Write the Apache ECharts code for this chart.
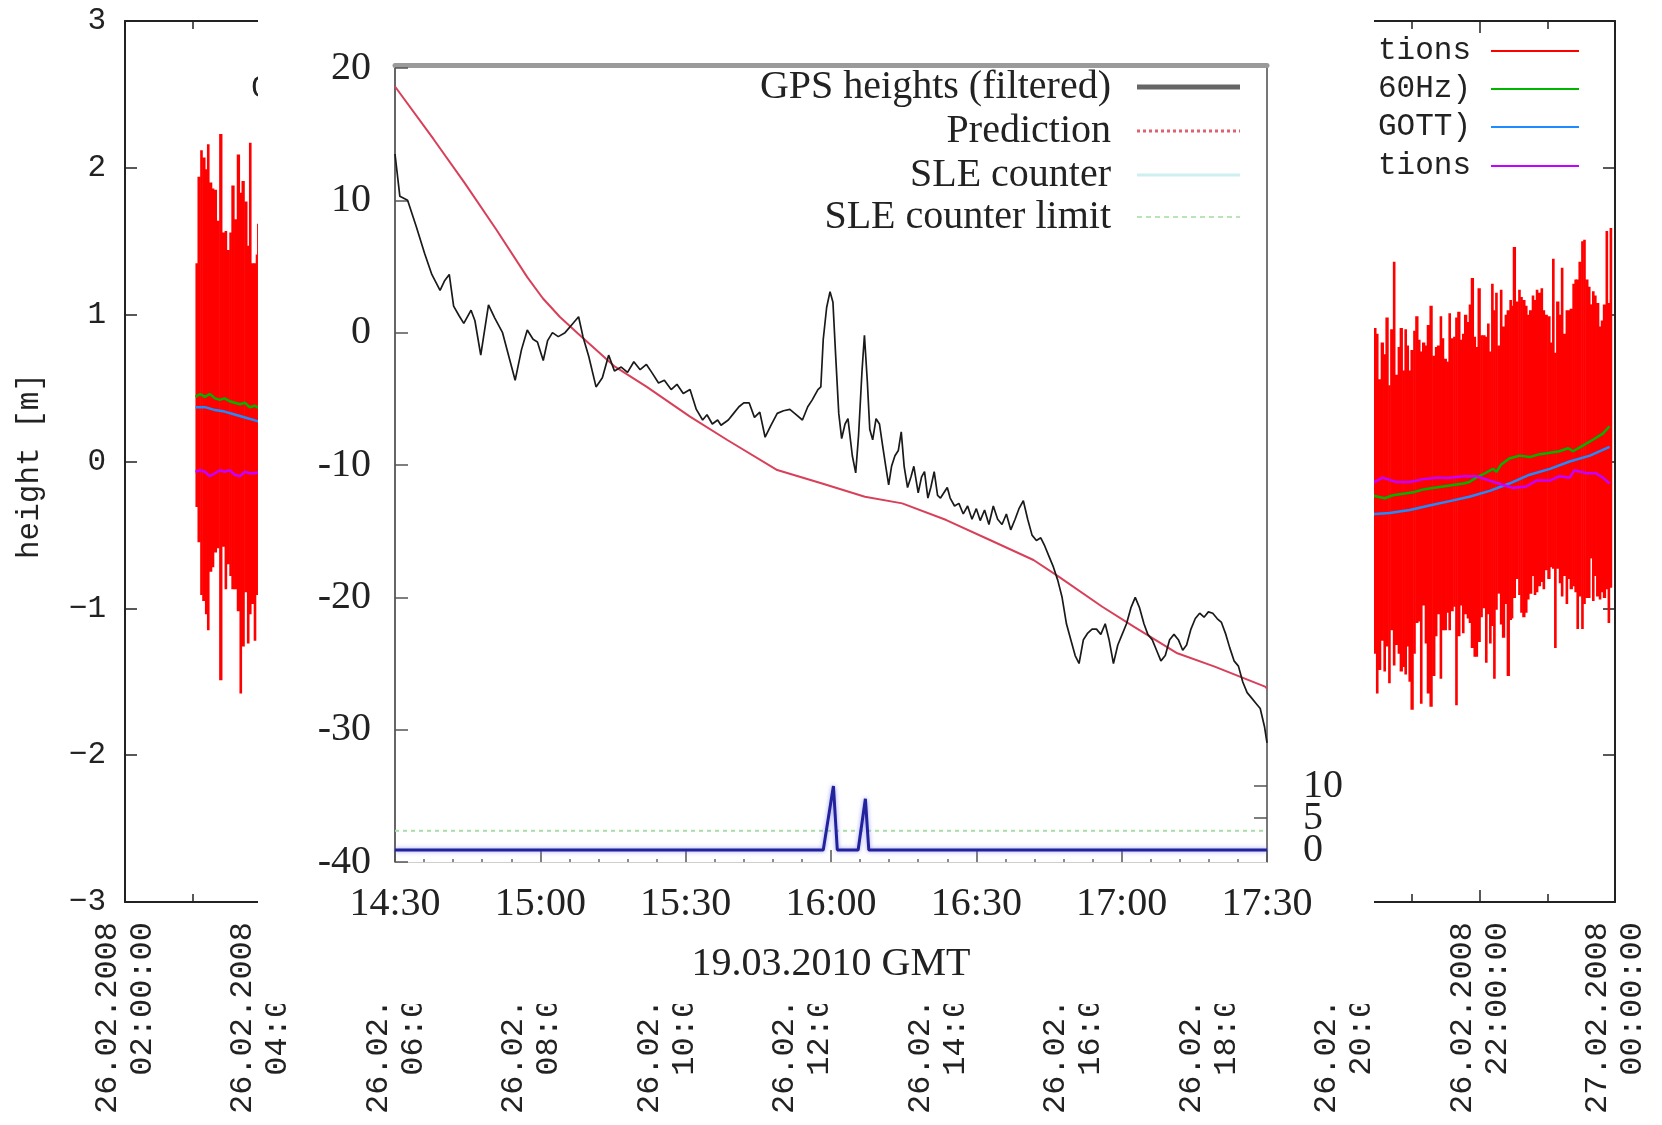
<!DOCTYPE html>
<html><head><meta charset="utf-8">
<script src="https://cdn.jsdelivr.net/npm/echarts@6/dist/echarts.min.js"></script>
<style>
html,body{margin:0;padding:0;background:#fff;}
#bg{position:absolute;left:0;top:0;width:1662px;height:1125px;}
#inset{position:absolute;left:258px;top:0;width:1116px;height:1004px;background:#fff;z-index:2;}
</style></head><body>
<div id="bg"></div><div id="inset"></div>
<script>
// ================= Background chart (26.02.2008, hours of day) =================
const bgYTicks = [-3, -2, -1, 0, 1, 2, 3];
const bgLegendTexts = ['tions', '60Hz)', 'GOTT)', 'tions'];
const bgLegendColors = ['#ff0000', '#00b400', '#1e8cff', '#c400ff'];

// red band: sample start times (last entry = end of last sample), upper and lower values
const redLeftT = [3.04,3.07,3.11,3.14,3.18,3.21,3.24,3.28,3.31,3.35,3.39,3.43,3.47,3.50,3.54,3.57,3.61,3.65,3.69,3.72,3.76,3.80,3.83,3.86,3.90,3.93,3.95,3.99];
const redLeftHi = [1.35,1.94,2.12,2.07,1.99,2.16,1.90,1.86,1.85,1.64,2.23,1.56,1.57,1.44,1.56,1.88,1.65,2.09,1.83,1.91,1.77,1.47,2.17,1.35,1.35,1.41,1.62];
const redLeftLo = [-0.31,-0.55,-0.91,-0.95,-1.04,-1.15,-0.75,-0.72,-0.62,-0.59,-1.49,-0.58,-0.87,-0.70,-0.78,-0.87,-0.87,-1.02,-1.58,-1.26,-0.89,-1.24,-1.04,-0.97,-1.22,-0.91,-0.91];

const redRightT = [20.42,20.47,20.50,20.54,20.58,20.61,20.65,20.68,20.72,20.75,
  20.79,20.82,20.86,20.89,20.92,20.95,20.98,21.02,21.05,21.09,
  21.12,21.15,21.19,21.22,21.26,21.30,21.34,21.37,21.41,21.44,
  21.47,21.51,21.54,21.57,21.61,21.64,21.67,21.71,21.74,21.77,
  21.81,21.84,21.87,21.91,21.94,21.97,22.01,22.04,22.08,22.11,
  22.14,22.17,22.20,22.23,22.26,22.30,22.33,22.37,22.40,22.44,
  22.47,22.49,22.53,22.57,22.60,22.63,22.67,22.70,22.73,22.77,
  22.80,22.83,22.86,22.90,22.93,22.96,23.00,23.04,23.07,23.10,
  23.13,23.17,23.20,23.23,23.27,23.30,23.33,23.37,23.40,23.43,
  23.46,23.50,23.53,23.56,23.60,23.63,23.66,23.69,23.72,23.76,
  23.79,23.82,23.86,23.89,23.92,23.95];
const redRightHi = [0.91,0.87,0.56,0.81,0.73,0.98,0.52,0.90,1.36,0.59,
  0.78,0.91,0.62,0.90,0.79,0.62,0.76,0.89,0.99,0.83,
  0.75,0.81,0.79,0.93,1.06,0.72,0.78,0.79,0.99,0.84,
  0.70,0.68,1.01,0.84,0.85,0.98,1.02,0.83,0.87,1.00,
  0.95,1.07,1.25,0.85,0.78,1.18,0.86,0.86,0.85,0.94,
  0.75,1.21,1.03,1.15,0.79,1.17,0.92,1.00,1.03,1.10,
  1.06,1.46,1.09,1.17,1.12,1.10,1.06,1.00,1.03,1.13,
  1.10,1.17,1.15,1.18,1.03,1.00,0.99,0.81,1.38,0.74,
  1.09,1.00,1.32,0.87,1.03,1.03,1.04,1.21,1.24,1.24,
  1.36,1.50,1.51,1.24,1.19,1.07,1.16,1.13,1.08,0.92,
  0.96,1.07,1.57,1.08,1.59];
const redRightLo = [-1.31,-1.58,-1.42,-1.22,-1.43,-1.26,-1.51,-1.15,-1.39,-1.25,
  -1.31,-1.43,-1.40,-1.45,-1.26,-1.50,-1.69,-1.31,-1.10,-1.09,
  -1.65,-0.98,-1.24,-1.58,-1.67,-1.46,-1.19,-1.04,-1.48,-1.15,
  -1.15,-1.03,-1.15,-1.02,-0.99,-1.66,-1.19,-0.98,-1.17,-1.04,
  -1.07,-1.10,-1.27,-1.33,-1.33,-1.23,-1.06,-1.00,-1.37,-1.04,
  -1.24,-1.12,-1.48,-1.01,-0.90,-1.11,-1.20,-0.97,-1.46,-1.08,
  -1.07,-0.93,-0.80,-0.91,-1.03,-1.06,-1.03,-0.94,-0.90,-0.78,
  -0.91,-0.89,-0.85,-0.82,-0.87,-0.74,-0.80,-0.72,-0.73,-1.27,
  -0.73,-0.83,-0.92,-0.78,-0.97,-0.80,-0.87,-0.85,-0.89,-1.14,
  -0.92,-1.14,-0.97,-0.93,-0.93,-0.66,-0.95,-0.78,-0.92,-0.94,
  -0.89,-0.93,-0.87,-1.10,-0.86];

const greenLeftT = [3.04,3.11,3.18,3.25,3.33,3.40,3.47,3.55,3.62,3.70,3.77,3.84,3.92,3.99];
const greenLeftV = [0.44,0.46,0.44,0.46,0.43,0.42,0.43,0.41,0.40,0.39,0.40,0.37,0.38,0.36];
const blueLeftT = [3.04,3.18,3.33,3.47,3.62,3.77,3.92,3.99];
const blueLeftV = [0.37,0.37,0.35,0.34,0.32,0.30,0.28,0.27];
const magentaLeftT = [3.04,3.11,3.18,3.25,3.33,3.40,3.47,3.55,3.62,3.70,3.77,3.84,3.92,3.99];
const magentaLeftV = [-0.07,-0.06,-0.07,-0.10,-0.08,-0.06,-0.07,-0.06,-0.09,-0.10,-0.07,-0.08,-0.08,-0.07];

const greenRightT = [20.40,20.50,20.60,20.72,20.87,21.02,21.17,21.31,21.46,21.61,21.76,21.85,21.95,22.08,22.20,22.25,22.32,22.44,22.59,22.74,22.89,23.04,23.18,23.31,23.38,23.53,23.68,23.82,23.92];
const greenRightV = [-0.23,-0.24,-0.25,-0.23,-0.22,-0.21,-0.19,-0.18,-0.17,-0.16,-0.15,-0.14,-0.11,-0.08,-0.05,-0.07,-0.02,0.02,0.04,0.03,0.05,0.06,0.07,0.09,0.07,0.11,0.15,0.19,0.24];
const blueRightT = [20.40,20.67,20.97,21.26,21.56,21.85,22.15,22.44,22.74,23.04,23.33,23.63,23.92];
const blueRightV = [-0.36,-0.35,-0.33,-0.30,-0.27,-0.24,-0.20,-0.15,-0.09,-0.05,0.00,0.04,0.10];
const magentaRightT = [20.40,20.57,20.77,20.97,21.17,21.36,21.56,21.76,21.95,22.15,22.35,22.49,22.69,22.84,23.04,23.18,23.33,23.40,23.58,23.72,23.82,23.92];
const magentaRightV = [-0.15,-0.11,-0.14,-0.14,-0.12,-0.11,-0.11,-0.10,-0.10,-0.13,-0.16,-0.18,-0.17,-0.13,-0.13,-0.10,-0.11,-0.06,-0.08,-0.08,-0.11,-0.15];

// ================= Inset chart (19.03.2010, minutes after 14:30) =================
const insetLegend = ['GPS heights (filtered)', 'Prediction', 'SLE counter', 'SLE counter limit'];
const gpsMin = [0,1.0,2.6,4.4,6.1,7.6,9.3,10.2,11.2,12.1,13.2,14.2,15.7,16.5,17.7,19.3,20.6,22.2,23.5,24.8,
  26.1,27.3,28.5,29.4,30.6,31.5,32.5,33.7,35.1,36.5,37.9,38.8,40.0,41.5,42.8,44.1,45.3,46.7,48.0,49.3,
  50.6,51.9,53.0,54.4,55.6,57.0,58.2,59.5,60.9,62.2,63.5,64.4,65.5,66.6,67.3,68.8,69.9,71.0,72.0,73.1,
  74.2,75.3,76.4,77.6,78.9,80.2,81.5,82.8,84.1,85.2,86.1,87.3,87.9,88.4,89.1,89.8,90.4,90.9,91.6,92.2,
  92.9,93.5,94.4,95.1,95.7,96.4,96.9,97.5,98.0,98.6,99.3,100.0,100.6,101.3,101.9,102.5,103.2,103.9,104.5,105.1,
  105.8,106.5,107.1,108.0,108.7,109.3,110.0,110.6,111.3,112.0,112.6,113.3,114.0,114.6,115.5,116.4,117.3,118.2,119.1,120.0,
  120.8,121.7,122.6,123.5,124.4,125.3,126.2,127.1,128.0,128.8,129.7,130.6,131.5,132.4,133.3,134.1,135.0,135.9,136.8,137.7,
  138.6,139.5,140.4,141.2,142.1,143.0,143.9,144.8,145.7,146.6,147.4,148.3,149.2,150.1,151.0,151.9,152.8,153.7,154.6,155.4,
  156.3,157.2,158.1,159.0,159.9,160.8,161.7,162.6,163.4,164.3,165.2,166.1,167.0,167.9,168.8,169.7,170.6,171.5,172.3,173.2,
  174.1,175.0,175.9,176.8,177.7,178.6,179.5,180.0];
const gpsV = [13.5,10.3,10.0,8.0,6.0,4.4,3.2,3.9,4.4,2.0,1.3,0.7,1.7,0.9,-1.7,2.1,1.1,0.0,-1.8,-3.6,
  -1.3,0.2,-0.5,-0.7,-2.1,-0.6,0.0,-0.3,0.0,0.6,1.2,-0.3,-1.8,-4.1,-3.4,-1.7,-2.9,-2.6,-3.0,-2.2,
  -2.8,-2.4,-3.0,-3.8,-3.6,-4.3,-3.9,-4.6,-4.3,-5.8,-6.6,-6.2,-6.9,-6.6,-7.0,-6.6,-6.1,-5.6,-5.3,-5.3,
  -6.4,-6.0,-7.9,-7.0,-6.1,-5.9,-5.8,-6.2,-6.6,-5.6,-5.1,-4.3,-4.1,-0.5,1.9,3.1,2.3,-1.3,-6.1,-8.0,
  -6.9,-6.5,-9.3,-10.6,-7.7,-2.9,-0.2,-3.7,-7.3,-8.1,-6.5,-6.9,-8.4,-10.1,-11.5,-10.1,-9.3,-8.9,-7.5,-10.1,
  -11.7,-10.9,-10.1,-12.1,-10.9,-10.5,-12.5,-11.7,-10.5,-12.3,-12.5,-12.1,-11.7,-12.5,-13.1,-12.9,-13.7,-13.1,-14.1,-13.3,
  -14.2,-13.4,-14.5,-13.1,-14.1,-14.5,-13.7,-14.9,-14.1,-13.3,-12.7,-14.1,-15.3,-15.7,-15.5,-16.1,-16.9,-17.7,-18.7,-20.0,
  -22.0,-23.2,-24.4,-25.0,-23.2,-22.7,-22.4,-22.4,-22.8,-22.0,-23.2,-25.0,-23.6,-22.8,-22.0,-20.8,-20.0,-20.8,-22.0,-22.8,
  -23.2,-24.0,-24.8,-24.4,-23.2,-22.8,-23.2,-24.0,-23.6,-22.4,-21.6,-21.2,-21.5,-21.1,-21.2,-21.6,-21.9,-22.8,-23.8,-24.8,
  -25.2,-26.4,-27.2,-27.6,-28.0,-28.4,-29.8,-31.0];
const predMin = [0,8.0,14.4,20.9,27.3,30.5,34.0,37.7,45.4,51.9,60.9,68.6,78.9,88.0,97.0,104.7,113.8,122.8,131.8,137.0,146.0,152.5,161.5,169.2,179.6,180];
const predV = [18.6,14.6,11.3,7.8,4.2,2.6,1.2,-0.05,-2.57,-4.08,-6.35,-8.11,-10.38,-11.38,-12.40,-12.90,-14.16,-15.67,-17.18,-18.44,-20.71,-22.22,-24.23,-25.24,-26.75,-26.9];
const counterMin = [0,88.4,90.5,91.3,95.6,97.1,97.8,180];
const counterV = [0,0,10,0,0,8,0,0];
const limitMin = [0,180];
const limitV = [3,3];
const counterOuterTicks = [10];
const counterOuterLabels = [0,10];
const counterMidTicks = [5];
const counterMidLabels = [5];

// ---------------- helpers ----------------
const zip = (a, b) => a.map((x, i) => [x, b[i]]);
const band = (T, Hi, Lo) => Hi.map((h, i) => [T[i], T[i + 1], Lo[i], h]);
const MONO = 'Liberation Mono';
const SERIF = 'Liberation Serif';
const minus = v => (v < 0 ? '\u2212' + (-v) : String(v));

// ---------------- background chart ----------------
const bg = echarts.init(document.getElementById('bg'), null, {renderer: 'canvas'});
const tickStyle = {color: '#222', width: 1.5};
const xCommon = {
  type: 'value', min: 2, max: 24, interval: 2,
  axisLine: {show: true, onZero: false, lineStyle: {color: '#222', width: 2}},
  axisTick: {show: true, inside: true, length: 12, lineStyle: tickStyle},
  minorTick: {show: true, splitNumber: 2, length: 8, lineStyle: tickStyle},
  splitLine: {show: false}, minorSplitLine: {show: false}
};
const yCommon = {
  type: 'value', min: -3, max: 3, interval: 1,
  axisLine: {show: true, onZero: false, lineStyle: {color: '#222', width: 2}},
  axisTick: {show: true, inside: true, length: 12, lineStyle: tickStyle},
  splitLine: {show: false}
};
const bandRender = (params, api) => {
  const p0 = api.coord([api.value(0), api.value(3)]);
  const p1 = api.coord([api.value(1), api.value(2)]);
  return {type: 'rect', shape: {x: p0[0], y: p0[1], width: p1[0] - p0[0] + 0.6, height: p1[1] - p0[1]},
    style: {fill: '#ff0000'}};
};
const lineSer = (T, V, color, w) => ({type: 'line', data: zip(T, V), showSymbol: false, symbol: 'none',
  lineStyle: {color: color, width: w}, z: 5, silent: true});

const bgGraphics = [
  {type: 'text', x: 30, y: 466, rotation: Math.PI / 2,
    style: {text: 'height [m]', font: '31px "' + MONO + '"', fill: '#222', align: 'center', verticalAlign: 'middle'}},
  {type: 'text', x: 251, y: 89, style: {text: 'G', font: '31px "' + MONO + '"', fill: '#222', align: 'left', verticalAlign: 'middle'}}
];
const bgRows = [51, 89, 127, 166];
bgLegendTexts.forEach((t, i) => {
  bgGraphics.push({type: 'text', x: 1471, y: bgRows[i],
    style: {text: t, font: '31px "' + MONO + '"', fill: '#222', align: 'right', verticalAlign: 'middle'}});
  bgGraphics.push({type: 'line', shape: {x1: 1491, y1: bgRows[i], x2: 1579, y2: bgRows[i]},
    style: {stroke: bgLegendColors[i], lineWidth: 2}});
});

bg.setOption({
  animation: false,
  backgroundColor: '#fff',
  grid: {left: 125, right: 47, top: 21, bottom: 223, containLabel: false},
  xAxis: [
    Object.assign({}, xCommon, {position: 'bottom', axisLabel: {rotate: 90, margin: 20, fontFamily: MONO, fontSize: 32,
      lineHeight: 35, color: '#222',
      formatter: h => (h === 24 ? '27.02.2008\n00:00:00' : '26.02.2008\n' + String(h).padStart(2, '0') + ':00:00')}}),
    Object.assign({}, xCommon, {position: 'top', axisLabel: {show: false}})
  ],
  yAxis: [
    Object.assign({}, yCommon, {position: 'left', axisLabel: {margin: 19, fontFamily: MONO, fontSize: 31, color: '#222', formatter: minus}}),
    Object.assign({}, yCommon, {position: 'right', axisLabel: {show: false}})
  ],
  graphic: bgGraphics,
  series: [
    {type: 'custom', renderItem: bandRender, data: band(redLeftT, redLeftHi, redLeftLo), encode: {x: [0, 1], y: [2, 3]}, z: 2, silent: true},
    {type: 'custom', renderItem: bandRender, data: band(redRightT, redRightHi, redRightLo), encode: {x: [0, 1], y: [2, 3]}, z: 2, silent: true},
    lineSer(greenLeftT, greenLeftV, '#00b400', 2.5),
    lineSer(blueLeftT, blueLeftV, '#1e8cff', 2.5),
    lineSer(magentaLeftT, magentaLeftV, '#c400ff', 2.5),
    lineSer(greenRightT, greenRightV, '#00b400', 2.5),
    lineSer(blueRightT, blueRightV, '#1e8cff', 2.5),
    lineSer(magentaRightT, magentaRightV, '#c400ff', 2.5)
  ]
});

// ---------------- inset chart ----------------
const ins = echarts.init(document.getElementById('inset'), null, {renderer: 'canvas'});
const insRows = [87, 131, 175, 217];
const insLegendStyles = [
  {stroke: '#666', lineWidth: 5},
  {stroke: '#e06070', lineWidth: 3, lineDash: [3, 3]},
  {stroke: '#cdeff0', lineWidth: 3},
  {stroke: '#b8e4b8', lineWidth: 2, lineDash: [5, 4]}
];
const insGraphics = [];
insetLegend.forEach((t, i) => {
  insGraphics.push({type: 'text', x: 853, y: insRows[i],
    style: {text: t, font: '40px "' + SERIF + '"', fill: '#222', align: 'right', verticalAlign: 'middle'}});
  insGraphics.push({type: 'line', shape: {x1: 879, y1: insRows[i], x2: 982, y2: insRows[i]},
    style: insLegendStyles[i]});
});
const timeFmt = m => { const tot = 14 * 60 + 30 + m; return Math.floor(tot / 60) + ':' + String(tot % 60).padStart(2, '0'); };
const counterAxis = (ticks, labels, showLine) => ({
  type: 'value', min: -1.875, max: 122.1875, position: 'right',
  axisLine: {show: showLine, onZero: false, lineStyle: {color: '#777', width: 2}},
  axisTick: {show: true, inside: true, length: 13, customValues: ticks, lineStyle: {color: '#555', width: 1.5}},
  splitLine: {show: false},
  axisLabel: {margin: 36, fontFamily: SERIF, fontSize: 40, color: '#222', customValues: labels,
    showMinLabel: true, showMaxLabel: true, hideOverlap: false}
});
ins.setOption({
  animation: false,
  backgroundColor: '#fff',
  grid: {left: 137, width: 872, top: 68, height: 794, containLabel: false},
  xAxis: [
    {type: 'value', min: 0, max: 180, interval: 30, position: 'bottom',
      axisLine: {show: true, onZero: false, lineStyle: {color: '#cfcfcf', width: 1}},
      axisTick: {show: true, inside: true, length: 12, lineStyle: {color: '#555', width: 1.5}},
      minorTick: {show: true, splitNumber: 5, length: 3, lineStyle: {color: '#666', width: 1.5}},
      splitLine: {show: false},
      axisLabel: {margin: 22, fontFamily: SERIF, fontSize: 40, color: '#222', formatter: timeFmt},
      name: '19.03.2010 GMT', nameLocation: 'middle', nameGap: 82,
      nameTextStyle: {fontFamily: SERIF, fontSize: 40, color: '#222'}},
    {type: 'value', min: 0, max: 180, interval: 30, position: 'top', offset: 3,
      axisLine: {show: true, onZero: false, lineStyle: {color: '#9a9a9a', width: 5}},
      axisTick: {show: false}, axisLabel: {show: false}, splitLine: {show: false}}
  ],
  yAxis: [
    {type: 'value', min: -40, max: 20, interval: 10, position: 'left',
      axisLine: {show: true, onZero: false, lineStyle: {color: '#666', width: 2}},
      axisTick: {show: true, inside: true, length: 13, lineStyle: {color: '#555', width: 1.5}},
      splitLine: {show: false},
      axisLabel: {margin: 24, fontFamily: SERIF, fontSize: 40, color: '#222', showMinLabel: true, showMaxLabel: true}},
    counterAxis(counterOuterTicks, counterOuterLabels, true),
    counterAxis(counterMidTicks, counterMidLabels, false)
  ],
  graphic: insGraphics,
  series: [
    {type: 'line', name: 'SLE counter limit', xAxisIndex: 0, yAxisIndex: 1, data: zip(limitMin, limitV), showSymbol: false,
      lineStyle: {color: '#a8dca8', width: 2, type: [4, 4]}, z: 2},
    {type: 'line', name: 'Prediction', xAxisIndex: 0, yAxisIndex: 0, data: zip(predMin, predV), showSymbol: false,
      lineStyle: {color: '#d8405a', width: 2}, z: 3},
    {type: 'line', name: 'GPS heights (filtered)', xAxisIndex: 0, yAxisIndex: 0, data: zip(gpsMin, gpsV), showSymbol: false,
      lineStyle: {color: '#1a1a1a', width: 1.7}, z: 4},
    {type: 'line', name: 'SLE counter', xAxisIndex: 0, yAxisIndex: 1, data: zip(counterMin, counterV), showSymbol: false,
      lineStyle: {color: '#22229a', width: 3, shadowBlur: 4, shadowColor: 'rgba(110,110,255,0.7)'}, z: 5}
  ]
});
</script>
</body></html>
